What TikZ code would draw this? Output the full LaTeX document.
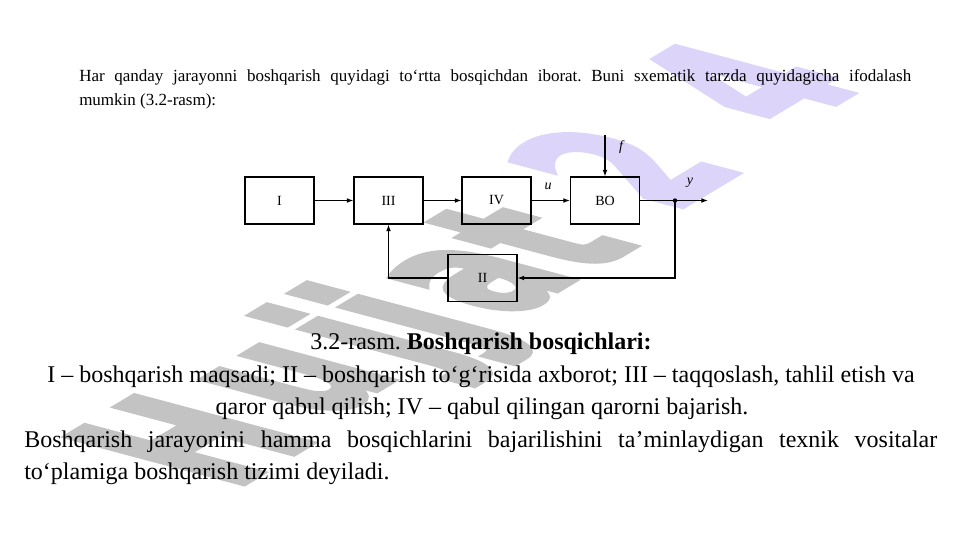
\documentclass[tikz,border=0pt]{standalone}
\usepackage{fontspec}
\setmainfont{Liberation Serif}
\newfontfamily\wmfont[BoldFeatures={FakeBold=4}]{DejaVu Sans}
\usetikzlibrary{arrows.meta}
\definecolor{wmgrey}{RGB}{195,195,195}
\definecolor{wmlav}{RGB}{221,212,250}
\frenchspacing
\newcommand\wmletter[5]{%
  \begin{scope}[cm={0.80,0.48,-1.80,0.48,(#1,#2)}]
    \node[wmtext,text=#3] (#4) at (0,0) {#5};
  \end{scope}}
\begin{document}
\begin{tikzpicture}[x=0.75pt,y=-0.75pt,
  wmtext/.style={font=\wmfont\bfseries\fontsize{100}{100}\selectfont,inner sep=0,anchor=base west,transform shape},
  blk/.style={draw,line width=0.8pt,minimum width=51.75pt,minimum height=35.25pt,inner sep=0,font=\fontsize{10.5}{12}\selectfont},
  lbl/.style={inner sep=0,font=\fontsize{10.5}{12}\selectfont\itshape},
  wire/.style={line width=0.8pt},
  conn/.style={line width=0.8pt,-{Latex[length=5pt,width=3.6pt]}},
  small/.style={inner sep=0,anchor=base west,font=\fontsize{12.75}{15}\selectfont},
  big/.style={inner sep=0,font=\fontsize{18}{22}\selectfont}]
\useasboundingbox (0,0) rectangle (960,540);
% watermark
\wmletter{232}{490}{wmgrey}{wmH}{H}
\wmletter{326}{420}{wmgrey}{wmu}{u}
\wmletter{424}{370}{wmgrey}{wmja}{j}
\wmletter{464}{348}{wmgrey}{wmjb}{j}
\wmletter{510}{318}{wmgrey}{wma}{a}
\wmletter{588}{274}{wmgrey}{wmt}{t}
\wmletter{672}{212}{wmlav}{wmtwo}{2}
\wmletter{794}{128}{wmlav}{wmfour}{4}
% top paragraph
\node[small] (p1) at (79,81) {\makebox[624pt][s]{Har qanday jarayonni boshqarish quyidagi to‘rtta bosqichdan iborat. Buni sxematik tarzda quyidagicha ifodalash}};
\node[small] (p2) at (79,105) {mumkin (3.2-rasm):};
% diagram
\node[blk] (I) at (279.5,200.5) {I};
\node[blk] (III) at (388.5,200.5) {III};
\node[blk] (IV) at (496.5,200.5) {IV};
\node[blk] (BO) at (605,200.5) {BO};
\node[blk] (II) at (482.5,278) {II};
\coordinate (jn) at (675,200.5);
\coordinate (out) at (708,200.5);
\coordinate (ftop) at (605,135);
\draw[conn] (I) -- (III);
\draw[conn] (III) -- (IV);
\draw[conn] (IV) -- (BO);
\draw[wire] (BO) -- (jn);
\draw[conn] (jn) -- (out);
\fill (jn) circle[radius=2.2];
\draw[conn] (jn) |- (II.east);
\draw[conn] (II.west) -| (III.south);
\draw[conn] (ftop) -- (BO.north);
\node[lbl] (f) at (621,147) {f};
\node[lbl] (u) at (548,186) {u};
\node[lbl] (y) at (690,183) {y};
% caption and text
\node[big,anchor=base] (cap) at (481,349) {3.2-rasm. \textbf{Boshqarish bosqichlari:}};
\node[big,anchor=base] (l1) at (481,382) {I – boshqarish maqsadi; II – boshqarish to‘g‘risida axborot; III – taqqoslash, tahlil etish va};
\node[big,anchor=base] (l2) at (482,414) {qaror qabul qilish; IV – qabul qilingan qarorni bajarish.};
\node[big,anchor=base west] (l3) at (24,447) {\makebox[684.75pt][s]{Boshqarish jarayonini hamma bosqichlarini bajarilishini ta’minlaydigan texnik vositalar}};
\node[big,anchor=base west] (l4) at (24,479) {to‘plamiga boshqarish tizimi deyiladi.};
\end{tikzpicture}
\end{document}
